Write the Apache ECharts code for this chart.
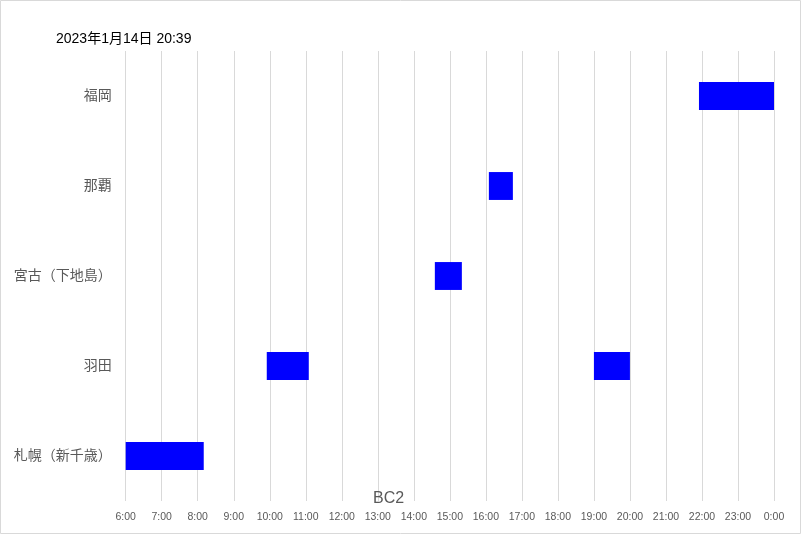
<!DOCTYPE html>
<html>
<head>
<meta charset="utf-8">
<script src="https://cdn.jsdelivr.net/npm/echarts@6/dist/echarts.min.js"></script>
<style>
html,body{margin:0;padding:0;background:#fff;}
#chart{width:801px;height:534px;}
</style>
</head>
<body>
<div id="chart"></div>
<script>
const chartTitle = '2023年1月14日 20:39';
const seriesName = 'BC2';
const categories = ['札幌（新千歳）', '羽田', '宮古（下地島）', '那覇', '福岡'];
const flightAirport = ['札幌（新千歳）', '羽田', '羽田', '宮古（下地島）', '那覇', '福岡'];
const flightStart = ['6:00', '9:55', '19:00', '14:35', '16:05', '21:55'];
const flightEnd = ['8:10', '11:05', '20:00', '15:20', '16:45', '24:00'];
const axisMinHour = 6;
const axisMaxHour = 24;

function toHours(s) {
  const p = s.split(':');
  return Number(p[0]) + Number(p[1]) / 60;
}

const data = flightAirport.map((a, i) => [categories.indexOf(a), toHours(flightStart[i]), toHours(flightEnd[i])]);

const fontFam = "'Liberation Sans', 'Noto Sans CJK JP', sans-serif";
const chart = echarts.init(document.getElementById('chart'));
chart.setOption({
  animation: false,
  textStyle: { fontFamily: fontFam },
  title: [
    { text: chartTitle, left: 56, top: 32, padding: 0, textStyle: { fontSize: 14, fontWeight: 'normal', color: '#000', fontFamily: fontFam } },
    { text: seriesName, left: 373, top: 491, padding: 0, textStyle: { fontSize: 16, fontWeight: 'normal', color: '#595959', fontFamily: fontFam } }
  ],
  graphic: [
    { type: 'rect', shape: { x: 0.5, y: 0.5, width: 800, height: 533 }, style: { fill: 'none', stroke: '#d9d9d9', lineWidth: 1 }, silent: true }
  ],
  grid: { left: 125.7, right: 27, top: 51, bottom: 33, containLabel: false },
  xAxis: {
    type: 'value', min: axisMinHour, max: axisMaxHour, interval: 1,
    axisLine: { show: false }, axisTick: { show: false },
    splitLine: { show: true, lineStyle: { color: '#d9d9d9', width: 1 } },
    axisLabel: { color: '#595959', fontSize: 10.5, margin: 11, formatter: v => (v % 24) + ':00' }
  },
  yAxis: {
    type: 'category', data: categories,
    axisLine: { show: false }, axisTick: { show: false }, splitLine: { show: false },
    axisLabel: { color: '#595959', fontSize: 14, margin: 14 }
  },
  series: [{
    type: 'custom',
    name: seriesName,
    encode: { x: [1, 2], y: 0 },
    data: data,
    renderItem: function (params, api) {
      const cat = api.value(0);
      const s = api.coord([api.value(1), cat]);
      const e = api.coord([api.value(2), cat]);
      const h = api.size([0, 1])[1] * 0.31;
      return {
        type: 'rect',
        shape: { x: s[0], y: s[1] - h / 2, width: e[0] - s[0], height: h },
        style: { fill: '#0000ff' }
      };
    }
  }]
});
</script>
</body>
</html>
